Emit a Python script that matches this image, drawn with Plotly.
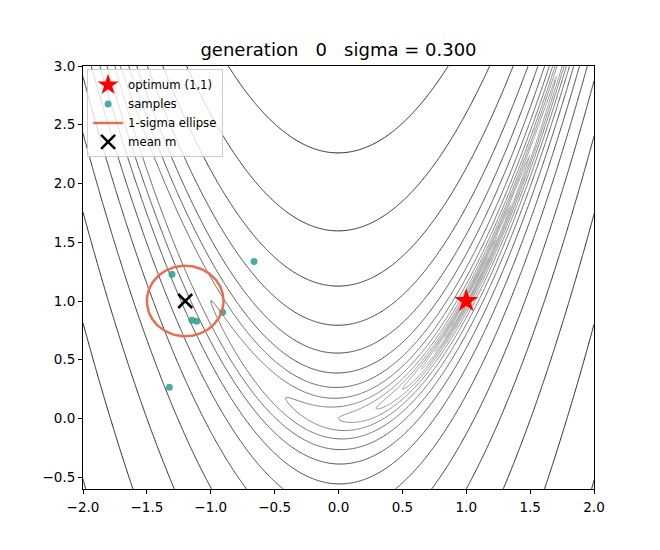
import numpy as np
import plotly.graph_objects as go

# ---- data ----
generation = 0
sigma = 0.300
mean_m = [-1.2, 1.0]
optimum = [1.0, 1.0]
sample_x = [-1.303, -0.661, -1.147, -1.110, -0.907, -1.324]
sample_y = [1.228, 1.336, 0.836, 0.828, 0.905, 0.266]
level_exponents = list(range(-6, 12))   # contour levels 2**k
x_range = [-2.0, 2.0]
y_range = [-0.6, 3.0]
x_ticks = [-2.0, -1.5, -1.0, -0.5, 0.0, 0.5, 1.0, 1.5, 2.0]
y_ticks = [-0.5, 0.0, 0.5, 1.0, 1.5, 2.0, 2.5, 3.0]

# Rosenbrock surface
gx = np.linspace(x_range[0], x_range[1], 500)
gy = np.linspace(y_range[0], y_range[1], 450)
X, Y = np.meshgrid(gx, gy)
F = (1 - X) ** 2 + 100 * (Y - X ** 2) ** 2
Z = np.log2(F)

fig = go.Figure()
fig.add_trace(go.Contour(
    x=gx, y=gy, z=Z,
    contours=dict(coloring="lines", start=level_exponents[0], end=level_exponents[-1], size=1),
    colorscale=[[0, "#b8b8b8"], [0.35, "#808080"], [0.6, "#3a3a3a"], [1, "#000000"]],
    zmin=level_exponents[0], zmax=level_exponents[-1],
    line=dict(width=0.9), showscale=False, showlegend=False, hoverinfo="skip",
))

fig.add_trace(go.Scatter(
    x=[optimum[0]], y=[optimum[1]], mode="markers", name="optimum (1,1)",
    marker=dict(symbol="star", size=18, color="red", line=dict(width=0)),
))
fig.add_trace(go.Scatter(
    x=sample_x, y=sample_y, mode="markers", name="samples",
    marker=dict(symbol="circle", size=7, color="#2a9d8f", opacity=0.85, line=dict(width=0)),
))
t = np.linspace(0, 2 * np.pi, 200)
fig.add_trace(go.Scatter(
    x=mean_m[0] + sigma * np.cos(t), y=mean_m[1] + sigma * np.sin(t),
    mode="lines", name="1-sigma ellipse", line=dict(color="#e76f51", width=2.5),
))
fig.add_trace(go.Scatter(
    x=[mean_m[0]], y=[mean_m[1]], mode="markers", name="mean m",
    marker=dict(symbol="x-thin", size=14, color="black", line=dict(width=2.5, color="black")),
))

axis_common = dict(showline=True, mirror=True, linecolor="black", linewidth=1,
                   ticks="outside", ticklen=4, tickcolor="black", showgrid=False,
                   zeroline=False, automargin=False, tickfont=dict(size=13.5, color="black"))
fig.update_xaxes(range=x_range, tickvals=x_ticks, tickformat=".1f", ticklabelstandoff=2, **axis_common)
fig.update_yaxes(range=y_range, tickvals=y_ticks, tickformat=".1f", **axis_common)

fig.update_layout(
    width=660, height=550,
    margin=dict(l=75, r=74, t=58, b=69),
    paper_bgcolor="white", plot_bgcolor="white",
    font=dict(family="DejaVu Sans", color="black"),
    title=dict(text=f"generation   {generation}   sigma = {sigma:.3f}",
               x=0.5, xref="paper", xanchor="center", y=0.925, yanchor="middle",
               font=dict(size=18, color="black")),
    legend=dict(x=0.008, y=0.992, xanchor="left", yanchor="top",
                bgcolor="rgba(255,255,255,0.8)", bordercolor="#cccccc", borderwidth=1,
                font=dict(size=11.7), tracegroupgap=0, itemwidth=30),
)

fig.write_html("out.html")
